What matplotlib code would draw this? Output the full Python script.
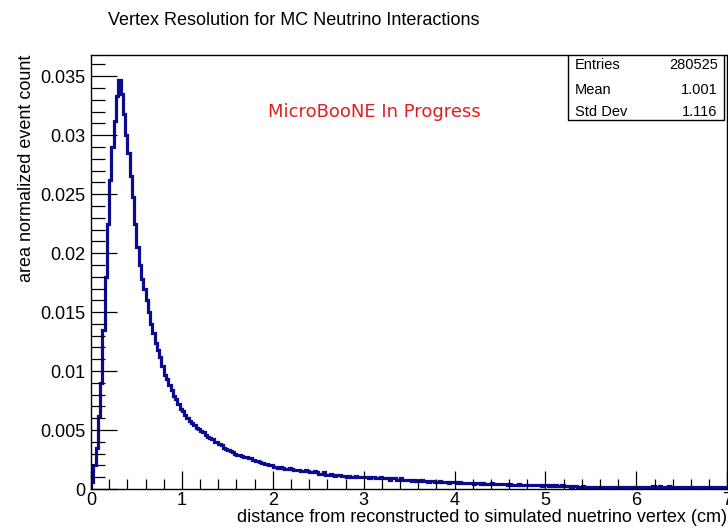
import numpy as np
import matplotlib.pyplot as plt
from matplotlib.ticker import MultipleLocator, FuncFormatter

plt.rcParams['font.family'] = ['Liberation Sans', 'DejaVu Sans']

# histogram contents (area normalized), 0.025 cm bins from 0 to 7 cm
bin_width = 0.025
counts = [
    # 0.00 - 2.00
    0.0006, 0.0020, 0.0035, 0.0062, 0.0090, 0.0135, 0.0180, 0.0225, 0.0262, 0.0290,
    0.0312, 0.0333, 0.0347, 0.0335, 0.0318, 0.0300, 0.0285, 0.0265, 0.0248, 0.0225,
    0.0205, 0.0190, 0.0178, 0.0170, 0.0160, 0.0150, 0.0140, 0.0132, 0.0124, 0.0118,
    0.0112, 0.0104, 0.0097, 0.0093, 0.0088, 0.0084, 0.0079, 0.0076, 0.0072, 0.0068,
    0.0066, 0.0063, 0.0060, 0.0058, 0.0056, 0.0054, 0.0052, 0.0051, 0.0049, 0.0048,
    0.0046, 0.0044, 0.0043, 0.0042, 0.0040, 0.0040, 0.0038, 0.0037, 0.0035, 0.0034,
    0.0033, 0.0032, 0.0031, 0.0030, 0.0029, 0.0029, 0.0028, 0.0027, 0.0027, 0.0026,
    0.0026, 0.0025, 0.0024, 0.0024, 0.0023, 0.0022, 0.0021, 0.0021, 0.0020, 0.0020,
    # 2.00 - 4.50
    0.0019, 0.0019, 0.0018, 0.0019, 0.0018, 0.0017, 0.0017, 0.0018, 0.0017, 0.0016,
    0.0016, 0.0016, 0.0015, 0.0015, 0.0016, 0.0015, 0.0014, 0.0014, 0.0015, 0.0014,
    0.0013, 0.0013, 0.0014, 0.0012, 0.0012, 0.0013, 0.0012, 0.0011, 0.0012, 0.0012,
    0.0011, 0.0011, 0.0010, 0.0011, 0.0010, 0.0010, 0.0011, 0.0010, 0.0010, 0.0010,
    0.0010, 0.0010, 0.0009, 0.0010, 0.0010, 0.0009, 0.0009, 0.0010, 0.0009, 0.0009,
    0.0009, 0.0008, 0.0009, 0.0009, 0.0008, 0.0008, 0.0009, 0.0008, 0.0008, 0.0008,
    0.0008, 0.0007, 0.0008, 0.0007, 0.0007, 0.0008, 0.0007, 0.0007, 0.0006, 0.0007,
    0.0007, 0.0006, 0.0006, 0.0007, 0.0006, 0.0006, 0.0006, 0.0005, 0.0006, 0.0006,
    0.0006, 0.0005, 0.0006, 0.0005, 0.0005, 0.0005, 0.0005, 0.0005, 0.0004, 0.0005,
    0.0005, 0.0004, 0.0005, 0.0004, 0.0004, 0.0004, 0.0005, 0.0004, 0.0004, 0.0004,
    # 4.50 - 7.00
    0.0004, 0.0004, 0.0004, 0.00035, 0.0004, 0.00035, 0.0003, 0.00035, 0.0004, 0.0003,
    0.0003, 0.00035, 0.0003, 0.0003, 0.0003, 0.00035, 0.0003, 0.0003, 0.00025, 0.0003,
    0.0003, 0.00025, 0.0003, 0.00025, 0.0003, 0.00025, 0.00025, 0.0003, 0.00025, 0.00025,
    0.00025, 0.0002, 0.00025, 0.00025, 0.0002, 0.0002, 0.00025, 0.0002, 0.0002, 0.0002,
    0.0002, 0.0002, 0.00015, 0.0002, 0.0002, 0.00015, 0.0002, 0.00015, 0.00015, 0.0002,
    0.00015, 0.00015, 0.0002, 0.00015, 0.00015, 0.0002, 0.00015, 0.00015, 0.0001, 0.00015,
    0.00015, 0.0002, 0.00015, 0.00015, 0.0002, 0.00015, 0.0002, 0.00025, 0.00015, 0.0002,
    0.00025, 0.0002, 0.00015, 0.0002, 0.00025, 0.0002, 0.00015, 0.0002, 0.0002, 0.00015,
    0.0002, 0.00015, 0.0002, 0.00015, 0.0002, 0.00015, 0.00015, 0.0002, 0.00015, 0.0002,
    0.00015, 0.0002, 0.00015, 0.0001, 0.00015, 0.0002, 0.00015, 0.0001, 0.00015, 0.0001,
]
edges = np.arange(len(counts) + 1) * bin_width

stats_names = ['Entries', 'Mean', 'Std Dev']
stats_values = ['280525', '1.001', '1.116']

fig = plt.figure(figsize=(7.28, 5.29), dpi=100)
ax = fig.add_axes([0.125, 0.0756, 0.874, 0.8204])
ax.stairs(counts, edges, color='#0b0b8f', lw=2.3)

ax.set_xlim(0, 7)
ax.set_ylim(0, 0.0368)
ax.xaxis.set_major_locator(MultipleLocator(1))
ax.xaxis.set_minor_locator(MultipleLocator(0.2))
ax.yaxis.set_major_locator(MultipleLocator(0.005))
ax.yaxis.set_minor_locator(MultipleLocator(0.001))
ax.yaxis.set_major_formatter(FuncFormatter(lambda v, p: '%g' % round(v, 4)))
ax.tick_params(axis='both', which='both', direction='in', labelsize=13, width=0.9)
ax.tick_params(axis='y', which='major', length=19, pad=4)
ax.tick_params(axis='y', which='minor', length=10)
ax.tick_params(axis='x', which='major', length=13, pad=2)
ax.tick_params(axis='x', which='minor', length=7)
for s in ax.spines.values():
    s.set_linewidth(1.0)

ax.set_xlabel('distance from reconstructed to simulated nuetrino vertex (cm)',
              fontsize=13, loc='right', labelpad=0)
ax.set_ylabel('area normalized event count', fontsize=13, loc='top', labelpad=4)

fig.text(0.403, 0.962, 'Vertex Resolution for MC Neutrino Interactions',
         fontsize=13, ha='center', va='center')

ax.text(0.446, 0.868, 'MicroBooNE In Progress', transform=ax.transAxes,
        color='#e02020', fontsize=13, ha='center', va='center',
        family=['DejaVu Sans'])

# stats box
bx0, by0, bw, bh = 0.749, 0.85, 0.246, 0.15
ax.add_patch(plt.Rectangle((bx0, by0), bw, bh, transform=ax.transAxes,
                           facecolor='white', edgecolor='black', lw=1.0,
                           zorder=5))
row_pos = [0.84, 0.47, 0.13]
for nm, val, rp in zip(stats_names, stats_values, row_pos):
    yy = by0 + bh * rp
    ax.text(bx0 + 0.012, yy, nm, transform=ax.transAxes, fontsize=10.5,
            ha='left', va='center', zorder=6)
    ax.text(bx0 + bw - 0.01, yy, val, transform=ax.transAxes, fontsize=10.5,
            ha='right', va='center', zorder=6)

fig.savefig('out.png', dpi=100)
